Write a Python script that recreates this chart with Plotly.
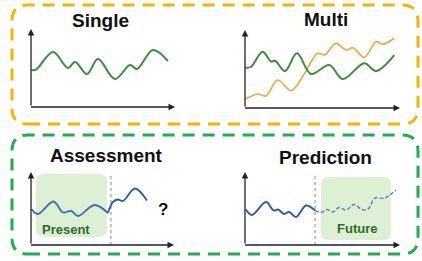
import plotly.graph_objects as go

W, H = 422, 261

# ---------------- data (arbitrary units, 0-100 per panel) ----------------
single_x = [0.3, 3.5, 15.3, 25.7, 30.6, 38.9, 46.5, 58.3, 68.8, 73.6, 84.7, 95.1]
single_y = [47.4, 48.0, 70.5, 50.0, 57.7, 42.3, 61.5, 35.9, 53.8, 48.7, 73.1, 59.0]

multi_green_x = [0.2, 3.9, 11.4, 16.8, 19.4, 25.8, 33.5, 42.6, 54.4, 63.0, 77.0, 84.5, 96.3]
multi_green_y = [51.7, 52.9, 72.2, 59.4, 60.6, 47.4, 70.1, 43.6, 55.1, 37.2, 57.3, 47.4, 67.9]
multi_orange_x = [0.2, 8.2, 13.5, 21.1, 29.7, 37.4, 46.9, 51.2, 58.7, 65.2, 69.5, 77.0, 84.5, 88.8, 96.3]
multi_orange_y = [11.2, 17.9, 15.4, 35.9, 22.2, 41.0, 70.1, 67.9, 82.9, 74.4, 77.3, 65.0, 85.0, 81.7, 89.4]

assess_present_x = [0.3, 4.9, 15.7, 22.4, 28.0, 32.9, 44.4, 53.8]
assess_present_y = [49.3, 42.5, 59.6, 44.5, 46.6, 39.7, 54.8, 43.8]
assess_after_x = [53.8, 57.3, 60.8, 64.3, 72.7, 81.1]
assess_after_y = [43.8, 58.9, 62.3, 60.3, 77.4, 61.0]

pred_past_x = [0.6, 4.5, 13.5, 18.4, 21.3, 25.2, 28.4, 32.9, 39.4, 45.2]
pred_past_y = [48.6, 41.1, 58.9, 47.3, 48.6, 42.5, 45.2, 38.4, 54.1, 47.3]
pred_future_x = [45.2, 49.0, 52.9, 56.8, 60.6, 65.2, 70.3, 75.5, 79.4, 83.9, 89.7, 92.9, 97.4]
pred_future_y = [47.3, 44.5, 48.6, 45.2, 51.4, 47.9, 55.5, 48.6, 49.3, 64.4, 63.7, 67.8, 75.3]

present_window = [3.5, 53.1, 11.0, 97.3]   # x0, x1, y0, y1 (panel units)
future_window = [49.0, 94.2, 6.8, 93.2]
assess_split = 55.9
pred_split = 45.2

titles = ["Single", "Multi", "Assessment", "Prediction"]

# ---------------- layout helpers ----------------
# panel pixel boxes: x_left, x_right, y_top, y_bottom
panels = {
    "1": (31, 175, 29, 107),
    "2": (245, 400, 30, 108),
    "3": (31, 174, 172, 245),
    "4": (245, 400, 172, 245),
}

fig = go.Figure()

GREEN = "#3D8B3D"
ORANGE = "#F0A53A"
BLUE = "#2D5CA6"
BLUE_L = "#5C86C0"

def ref(k):
    return ("x" if k == "1" else "x" + k), ("y" if k == "1" else "y" + k)

def line(k, x, y, color, width=2.0, dash="solid"):
    xr, yr = ref(k)
    fig.add_trace(go.Scatter(x=x, y=y, mode="lines", xaxis=xr, yaxis=yr,
                             line=dict(color=color, width=width, shape="spline",
                                       smoothing=1.0, dash=dash),
                             hoverinfo="skip", showlegend=False))

line("1", single_x, single_y, GREEN, 2.0)
line("2", multi_orange_x, multi_orange_y, ORANGE, 1.6)
line("2", multi_green_x, multi_green_y, GREEN, 2.0)
line("3", assess_present_x, assess_present_y, "#3E6DB0", 1.8)
line("3", assess_after_x, assess_after_y, BLUE, 1.8)
line("4", pred_past_x, pred_past_y, BLUE, 1.9)
line("4", pred_future_x, pred_future_y, BLUE_L, 1.5, dash="4px,2px")

layout = dict(width=W, height=H, margin=dict(l=0, r=0, t=0, b=0),
              paper_bgcolor="white", plot_bgcolor="rgba(0,0,0,0)",
              showlegend=False)
for k, (x0, x1, yt, yb) in panels.items():
    xname = "xaxis" if k == "1" else "xaxis" + k
    yname = "yaxis" if k == "1" else "yaxis" + k
    xr, yr = ref(k)
    layout[xname] = dict(domain=[x0 / W, x1 / W], range=[0, 100], visible=False,
                         fixedrange=True, anchor=yr)
    layout[yname] = dict(domain=[1 - yb / H, 1 - yt / H], range=[0, 100], visible=False,
                         fixedrange=True, anchor=xr)
fig.update_layout(**layout)

shapes = []
annotations = []

def rounded(x0, x1, y0, y1, rx, ry):
    return (f"M {x0+rx},{y0} L {x1-rx},{y0} Q {x1},{y0} {x1},{y0+ry} "
            f"L {x1},{y1-ry} Q {x1},{y1} {x1-rx},{y1} L {x0+rx},{y1} "
            f"Q {x0},{y1} {x0},{y1-ry} L {x0},{y0+ry} Q {x0},{y0} {x0+rx},{y0} Z")

def paper_box(l, t, r, b, rad, color):
    path = rounded(l / W, r / W, 1 - b / H, 1 - t / H, rad / W, rad / H)
    shapes.append(dict(type="path", path=path, xref="paper", yref="paper",
                       line=dict(color=color, width=3, dash="12px,8px"),
                       fillcolor="rgba(0,0,0,0)", layer="below"))

paper_box(12, 5, 418, 124, 16, "#F6B400")
paper_box(12, 135, 418, 254, 16, "#1EAE4A")

for k, win in (("3", present_window), ("4", future_window)):
    x0p, x1p, ytp, ybp = panels[k]
    rx = 8 / (x1p - x0p) * 100
    ry = 8 / (ybp - ytp) * 100
    xr, yr = ref(k)
    shapes.append(dict(type="path", path=rounded(win[0], win[1], win[2], win[3], rx, ry),
                       xref=xr, yref=yr, line=dict(width=0),
                       fillcolor="#DDF0D4", layer="below"))

for k, sx in (("3", assess_split), ("4", pred_split)):
    xr, yr = ref(k)
    shapes.append(dict(type="line", x0=sx, x1=sx, y0=0, y1=95, xref=xr, yref=yr,
                       line=dict(color="#8A8A8A", width=1, dash="3px,3px"), layer="below"))

for k in panels:
    xr, yr = ref(k)
    for (tx, ty) in ((100, 0), (0, 100)):
        annotations.append(dict(x=tx, y=ty, ax=-1 if ty == 0 else 0, ay=0,
                                xref=xr, yref=yr, axref=xr, ayref=yr,
                                text="", showarrow=True, arrowhead=2, arrowsize=1,
                                arrowwidth=1.3, arrowcolor="#222222", standoff=0))

title_pos = [(100, 20.5), (326, 20), (106.5, 155.5), (325.5, 157)]
for t, (px, py) in zip(titles, title_pos):
    annotations.append(dict(x=px / W, y=1 - py / H, xref="paper", yref="paper",
                            text=f"<b>{t}</b>", showarrow=False,
                            font=dict(family="Liberation Sans, Arial, sans-serif",
                                      size=19, color="#111111"),
                            xanchor="center", yanchor="middle"))

for txt, px, py in (("Present", 66, 229), ("Future", 357, 228.5)):
    annotations.append(dict(x=px / W, y=1 - py / H, xref="paper", yref="paper",
                            text=f"<b>{txt}</b>", showarrow=False,
                            font=dict(family="Liberation Sans, Arial, sans-serif",
                                      size=13, color="#2E6B2E"),
                            xanchor="center", yanchor="middle"))

annotations.append(dict(x=162.5 / W, y=1 - 209.5 / H, xref="paper", yref="paper",
                        text="<b>?</b>", showarrow=False,
                        font=dict(family="Liberation Sans, Arial, sans-serif",
                                  size=17, color="#111111"),
                        xanchor="center", yanchor="middle"))

fig.update_layout(shapes=shapes, annotations=annotations)
fig.write_html("out.html", config={"displayModeBar": False},
               post_script="document.body.style.margin='0';document.body.style.overflow='hidden';")
